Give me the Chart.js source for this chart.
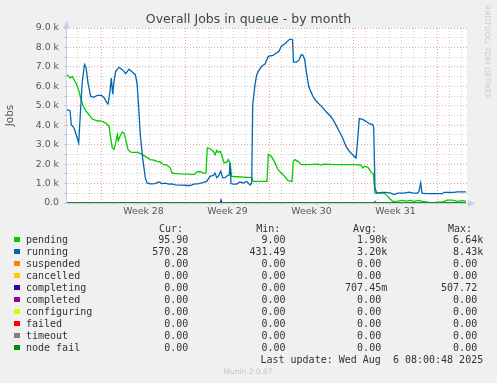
<!DOCTYPE html>
<html><head><meta charset="utf-8">
<script src="https://cdn.jsdelivr.net/npm/chart.js@4.4.1/dist/chart.umd.min.js"></script>
<style>html,body{margin:0;padding:0;background:#F0F0F0;overflow:hidden}canvas{display:block}</style>
</head><body>
<canvas id="c" width="497" height="383"></canvas>
<script>
// ---- texts ----
const chartTitle = 'Overall Jobs in queue - by month';
const yAxisLabel = 'Jobs';
const weekLabels = ['Week 28', 'Week 29', 'Week 30', 'Week 31'];
const weekLineHours = [69, 237, 405, 573, 741];      // hours since graph start
const yTickValues = [0,0.5,1,1.5,2,2.5,3,3.5,4,4.5,5,5.5,6,6.5,7,7.5,8,8.5,9];
const yTickLabels = ['0.0','','1.0 k','','2.0 k','','3.0 k','','4.0 k','','5.0 k','','6.0 k','','7.0 k','','8.0 k','','9.0 k'];

// ---- series (x: hours since graph start, y: thousands of jobs) ----
const pendingHours = [0,6,10.6,14,19.4,24,27.4,32.6,37.4,44,50.6,60.6,70.6,77.4,84,87.4,90.6,94,97.4,100.6,102.6,106,110.6,114,117.4,122,127.4,134,140,146.6,156.6,166.6,173.4,180,186.6,193.4,200,206.6,210,223.4,243.4,250,255.4,260,266.6,271.4,278,280.6,286,292.6,296,299.4,302.6,306,309.4,314,319.4,322.6,326,329.4,339.4,352.6,369.4,372.6,386,400,402.6,408.6,415.4,422,428.6,435.4,442,450,452.6,455.4,462,468.6,482,502,508.6,512,538,578,588,591.4,594.6,601.4,608,612.6,616,624.6,634.6,641.4,648,651.4,661.4,671.4,678,687.4,694,704,711,720.6,730,740.6,750.6,760.6,770.6,780.6,790.6,798];
const pendingK = [6.6,6.43,6.5,6.35,6.09,5.74,5.4,4.97,4.75,4.54,4.32,4.23,4.2,4.11,3.94,3.34,2.83,2.75,3.09,3.51,3.2,3.43,3.65,3.6,3.26,2.74,2.62,2.6,2.6,2.55,2.4,2.23,2.2,2.14,2.1,1.97,1.95,1.8,1.54,1.5,1.48,1.46,1.48,1.6,1.62,1.54,1.54,2.83,2.8,2.66,2.48,2.7,2.6,2.66,2.48,2.06,2.1,2.23,2.06,1.37,1.35,1.33,1.31,1.11,1.11,1.11,2.5,2.4,2.1,1.71,1.54,1.37,1.15,1.11,2.14,2.23,2.14,1.97,1.97,2.0,1.95,2.0,1.97,1.97,1.95,1.8,1.88,1.85,1.6,1.5,0.51,0.51,0.51,0.34,0.17,0.08,0.1,0.13,0.1,0.13,0.08,0.13,0.08,0.05,0.01,0.05,0.05,0.15,0.15,0.08,0.12,0.1];

const runningHours = [0,6,8.6,14,19.4,23.4,27.4,30.6,35,38,42,47.4,54,60.6,68.6,74,79.4,82,86,88.6,91.4,94,97.4,104,110.6,117.4,124,130,136.6,140,143.4,146.6,151.4,156.6,160,166.6,176,183.4,190,196.6,203.4,210,216.6,230,240,246.6,253.4,263.4,270,279.4,286,292.6,296,299.4,302.6,307.4,311.4,316,320.6,324.6,326,328,332.6,339.4,346,352.6,359.4,366,369.4,371.4,376,379.4,382.6,389.4,396,402.6,412,418.6,424,428.6,435.4,442,446,451,453,458.6,463.4,468.6,472,475.4,478.6,483.4,487.4,492,498.6,505.4,512,518.6,525.4,532,538.6,544.6,551.4,558,564.6,571.4,578,581.4,584.6,591.4,598,604.6,611.4,613.4,616,619.4,631.4,638,648,654.6,661.4,674,684,692,700.6,704,707.4,710,717.4,740.6,750.6,754,774,780.6,798];
const runningK = [4.8,4.75,4.03,3.86,3.43,3.09,4.9,6.26,7.13,7.0,6.17,5.48,5.43,5.54,5.54,5.43,5.17,5.09,5.74,6.43,5.6,6.26,6.77,6.98,6.86,6.65,6.88,6.75,6.6,6.17,4.89,3.51,2.31,1.29,1.03,0.98,1.0,1.08,1.0,1.02,0.97,0.98,0.93,0.92,0.9,0.9,0.97,1.0,1.04,1.11,1.37,1.42,1.54,1.3,1.37,1.63,1.3,1.3,1.4,1.45,2.06,1.0,0.97,0.97,1.08,1.03,1.11,0.93,1.03,5.06,6.09,6.6,6.77,7.03,7.15,7.54,7.59,7.71,7.8,8.06,8.18,8.35,8.43,8.4,7.25,7.25,7.32,7.63,7.6,7.37,6.77,6.0,5.74,5.48,5.23,5.06,4.89,4.68,4.51,4.29,3.98,3.68,3.34,2.91,2.66,2.48,2.31,3.26,4.34,4.3,4.2,4.08,4.03,3.9,0.77,0.51,0.55,0.55,0.51,0.43,0.51,0.51,0.56,0.51,0.51,0.6,1.03,0.51,0.48,0.48,0.48,0.55,0.55,0.57,0.57];

const completingHours = [0,307,308,309,615,616,617,798];
const completingK = [0,0,0.12,0,0,0.06,0,0];

const flatHours = [0, 798];          // series that stayed at 0 the whole month
const flatK = [0, 0];

// ---- legend table ----
const seriesNames  = ['pending','running','suspended','cancelled','completing','completed','configuring','failed','timeout','node fail'];
const seriesColors = ['#00CC00','#0066B3','#FF8000','#FFCC00','#330099','#990099','#CCFF00','#FF0000','#808080','#008F00'];
const curVals = ['95.90','570.28','0.00','0.00','0.00','0.00','0.00','0.00','0.00','0.00'];
const minVals = ['9.00','431.49','0.00','0.00','0.00','0.00','0.00','0.00','0.00','0.00'];
const avgVals = ['1.90k','3.20k','0.00 ','0.00 ','707.45m','0.00 ','0.00 ','0.00 ','0.00 ','0.00 '];
const maxVals = ['6.64k','8.43k','0.00 ','0.00 ','507.72 ','0.00 ','0.00 ','0.00 ','0.00 ','0.00 '];
const lastUpdate = 'Last update: Wed Aug  6 08:00:48 2025';
const watermark = 'RRDTOOL/ TOBI OETIKER';
const versionText = 'Munin 2.0.67';

// ---- helpers ----
const pts = (xs, ys) => xs.map((x, i) => ({x, y: ys[i]}));
const weekCenters = weekLineHours.slice(0, -1).map((h, i) => (h + weekLineHours[i + 1]) / 2);
const dayLines = [];
for (let h = weekLineHours[0] - 48; h < 800; h += 24) dayLines.push(h);
const xTickValues = dayLines.concat(weekCenters).sort((a, b) => a - b);

const GREY = '#CFCFCF', RED = '#EEA4A4', AXIS = '#C8D0F2', NONE = 'rgba(0,0,0,0)';
const seriesData = {
  'pending': pts(pendingHours, pendingK),
  'running': pts(runningHours, runningK),
  'completing': pts(completingHours, completingK)
};
const datasets = seriesNames.map((n, i) => ({
  label: n,
  data: seriesData[n] || pts(flatHours, flatK),
  borderColor: seriesColors[i],
  backgroundColor: seriesColors[i],
  borderWidth: 1.3,
  pointRadius: 0,
  tension: 0,
  fill: false,
  order: seriesNames.length - i
}));

const mono = '10px "DejaVu Sans Mono", monospace';
const deco = {
  id: 'deco',
  beforeDraw(chart) {
    const {ctx, chartArea: a} = chart;
    ctx.save();
    ctx.fillStyle = '#F0F0F0';
    ctx.fillRect(0, 0, chart.width, chart.height);
    ctx.fillStyle = '#FFFFFF';
    ctx.fillRect(a.left, a.top, a.right - a.left, a.bottom - a.top + 1);
    ctx.restore();
  },
  afterDraw(chart) {
    const {ctx, chartArea: a} = chart;
    ctx.save();
    // axis arrows
    ctx.fillStyle = AXIS;
    ctx.beginPath();
    ctx.moveTo(a.left - 3, a.top); ctx.lineTo(a.left + 4, a.top); ctx.lineTo(a.left + 0.5, a.top - 7); ctx.closePath(); ctx.fill();
    ctx.fillRect(a.right, a.bottom, 2, 1);
    ctx.beginPath();
    ctx.moveTo(a.right + 1, a.bottom - 3); ctx.lineTo(a.right + 1, a.bottom + 4); ctx.lineTo(a.right + 8, a.bottom + 0.5); ctx.closePath(); ctx.fill();
    // watermark
    ctx.fillStyle = '#CBCBCB';
    ctx.font = '7.5px "DejaVu Sans"';
    ctx.translate(487, 5); ctx.rotate(Math.PI / 2);
    ctx.textAlign = 'left'; ctx.textBaseline = 'middle';
    ctx.fillText(watermark, 0, 0);
    ctx.setTransform(1, 0, 0, 1, 0, 0);
    // legend table
    ctx.font = mono; ctx.fillStyle = '#333333'; ctx.textBaseline = 'alphabetic';
    ctx.textAlign = 'right';
    const hb = 231.5;
    ctx.fillText('Cur:', 183, hb); ctx.fillText('Min:', 280.3, hb);
    ctx.fillText('Avg:', 377, hb); ctx.fillText('Max:', 472, hb);
    seriesNames.forEach((n, i) => {
      const b = 243 + 12 * i;
      ctx.fillStyle = seriesColors[i];
      ctx.fillRect(14, b - 6, 6, 5);
      ctx.fillStyle = '#333333';
      ctx.textAlign = 'left'; ctx.fillText(n, 26, b);
      ctx.textAlign = 'right';
      ctx.fillText(curVals[i], 188.3, b);
      ctx.fillText(minVals[i], 285.6, b);
      ctx.fillText(avgVals[i], 387.2, b);
      ctx.fillText(maxVals[i], 483.2, b);
    });
    ctx.fillText(lastUpdate, 483.2, 363.3);
    ctx.fillStyle = '#C4C4C4'; ctx.font = '7.5px "DejaVu Sans"'; ctx.textAlign = 'center';
    ctx.fillText(versionText, 248, 374.3);
    ctx.restore();
  }
};

new Chart(document.getElementById('c'), {
  type: 'line',
  data: {datasets},
  plugins: [deco],
  options: {
    responsive: false, animation: false, devicePixelRatio: 1,
    events: [],
    layout: {padding: {left: 0, right: 0, top: 0, bottom: 160}},
    plugins: {
      legend: {display: false}, tooltip: {enabled: false},
      title: {display: true, text: chartTitle, color: '#444444',
              font: {family: 'DejaVu Sans', size: 12.5, weight: 'normal', lineHeight: 1.2},
              padding: {top: 12, bottom: 1}}
    },
    scales: {
      x: {
        type: 'linear', min: -2, max: 800,
        afterFit(s) { s.height = 20; },
        afterBuildTicks(s) { s.ticks = xTickValues.map(v => ({value: v})); },
        ticks: {
          autoSkip: false, maxRotation: 0, padding: 1, color: '#555555',
          font: {family: 'DejaVu Sans', size: 9.33},
          callback: v => { const k = weekCenters.indexOf(v); return k >= 0 ? weekLabels[k] : ''; }
        },
        grid: {
          lineWidth: 1, tickLength: 2, drawTicks: true,
          color: c => weekCenters.includes(c.tick.value) ? NONE : (weekLineHours.includes(c.tick.value) ? RED : GREY),
          tickColor: c => weekCenters.includes(c.tick.value) ? NONE : '#C8C8C8'
        },
        border: {display: true, color: AXIS, width: 1, dash: [1, 2]}
      },
      y: {
        type: 'linear', min: 0, max: 9,
        afterFit(s) { s.width = 66; },
        afterBuildTicks(s) { s.ticks = yTickValues.map(v => ({value: v})); },
        ticks: {
          autoSkip: false, padding: 5, color: '#555555',
          font: {family: 'DejaVu Sans', size: 9.33},
          callback: v => yTickLabels[yTickValues.indexOf(v)]
        },
        grid: {
          lineWidth: 1, tickLength: 2, drawTicks: true,
          color: c => Number.isInteger(c.tick.value) ? RED : GREY,
          tickColor: '#C8C8C8'
        },
        border: {display: true, color: AXIS, width: 1, dash: [1, 2]},
        title: {display: true, text: yAxisLabel, color: '#555555',
                font: {family: 'DejaVu Sans', size: 10.5}, padding: {top: 3.7, bottom: 0}}
      },
      yRight: {
        position: 'right', display: true, min: 0, max: 9,
        afterFit(s) { s.width = 30; },
        grid: {display: false, drawTicks: false},
        ticks: {display: false},
        border: {display: false}
      }
    }
  }
});
</script>
</body></html>
